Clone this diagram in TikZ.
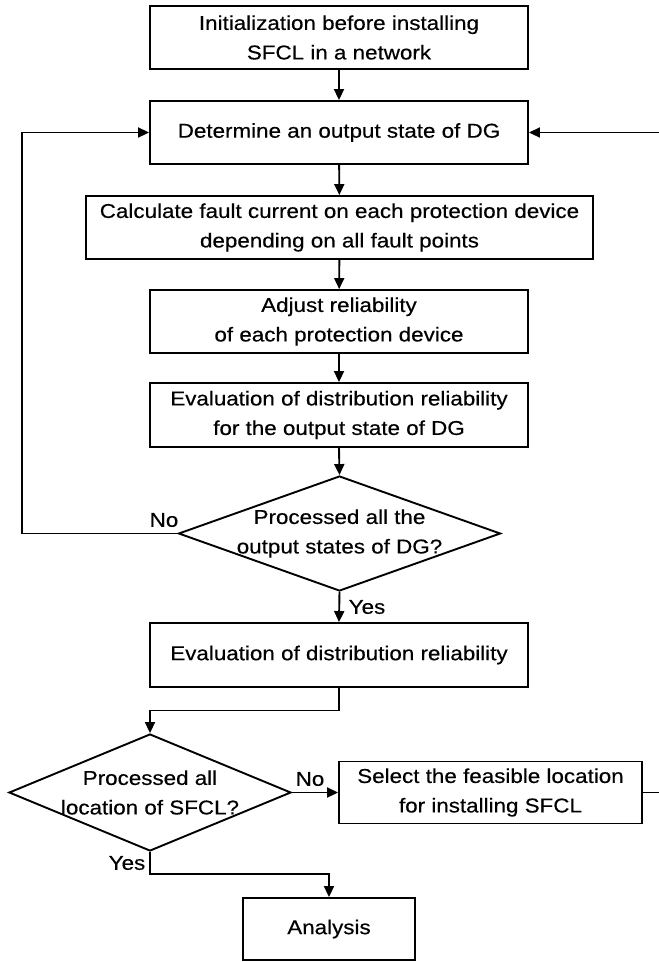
\documentclass[tikz,border=0pt]{standalone}
\usepackage{fontspec}
\setmainfont{Liberation Sans}[FakeStretch=1.12,FakeBold=0.4]
\usetikzlibrary{shapes.geometric,arrows.meta}
\begin{document}
\begin{tikzpicture}[x=1pt,y=-1pt,
  line width=1.9pt,
  every node/.style={font=\fontsize{20}{29.5}\selectfont, text=black},
  box/.style={draw, rectangle, align=center, inner sep=0pt, minimum height=63pt},
  dia/.style={draw, diamond, inner sep=0pt},
  arr/.style={-{Triangle[length=11pt,width=10pt]}},
  lab/.style={inner sep=1pt}
]
\useasboundingbox (0,0) rectangle (659,962);

\node[box, minimum width=378pt] (b1) at (339,37.5) {Initialization before installing\\SFCL in a network};
\node[box, minimum width=378pt] (b2) at (339,132.5) {Determine an output state of DG};
\node[box, minimum width=507pt] (b3) at (339.5,227.5) {Calculate fault current on each protection device\\depending on all fault points};
\node[box, minimum width=378pt] (b4) at (339,321.5) {Adjust reliability\\of each protection device};
\node[box, minimum width=378pt, minimum height=64pt] (b5) at (339,415) {Evaluation of distribution reliability\\for the output state of DG};
\node[dia, minimum width=322pt, minimum height=115pt] (d1) at (339.5,533.5) {};
\node[align=center] (d1t) at (d1) {Processed all the\\output states of DG?};
\node[box, minimum width=378pt, minimum height=64pt] (b6) at (339,655) {Evaluation of distribution reliability};
\node[dia, minimum width=282pt, minimum height=117pt] (d2) at (150,792.5) {};
\node[align=center] (d2t) at (d2) {Processed all\\location of SFCL?};
\node[box, minimum width=303pt, minimum height=62pt] (b7) at (490.5,792.5) {Select the feasible location\\for installing SFCL};
\node[box, minimum width=172pt, minimum height=62pt] (b8) at (329,929) {Analysis};

\node[lab] (no1) at (164,520) {No};
\node[lab] (yes1) at (367,607) {Yes};
\node[lab] (no2) at (310,779) {No};
\node[lab] (yes2) at (127,863) {Yes};

\coordinate (lx) at (22,300);
\coordinate (rx) at (662,300);
\coordinate (j1) at (150,710.5);
\coordinate (j2) at (150,874);

\draw[arr] (b1) -- (b2);
\draw[arr] (b2) -- (b3);
\draw[arr] (b3) -- (b4);
\draw[arr] (b4) -- (b5);
\draw[arr] (b5.south) -- (d1.north);
\draw[arr] (d1.south) -- (b6.north);
\draw[arr] (d1.west) -| (lx) |- (b2.west);
\draw[arr] (b7.east) -| (rx) |- (b2.east);
\draw[arr] (b6.south) |- (j1) -- (d2.north);
\draw[arr] (d2.east) -- (b7.west);
\draw[arr] (d2.south) -- (j2) -| (b8.north);
\end{tikzpicture}
\end{document}
